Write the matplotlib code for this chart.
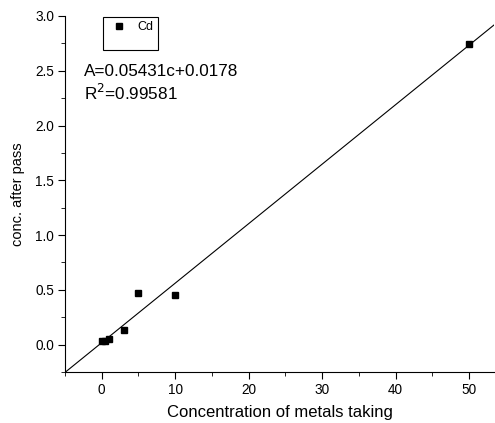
import matplotlib
matplotlib.use("Agg")
import matplotlib.pyplot as plt
import numpy as np
from matplotlib.ticker import MultipleLocator
from matplotlib.patches import Rectangle

plt.rcParams['font.family'] = ['Liberation Sans', 'DejaVu Sans']

conc = [0, 0.5, 1, 3, 5, 10, 50]
after = [0.03, 0.03, 0.05, 0.13, 0.47, 0.45, 2.74]
slope = 0.05431
intercept = 0.0178

W, H = 495, 423
fig = plt.figure(figsize=(W/100, H/100), dpi=100)
ax = fig.add_axes([65/W, 51/H, 429/W, 356/H])
xlim = (-5, 53.4)
ylim = (-0.25, 3.0)
ax.set_xlim(*xlim)
ax.set_ylim(*ylim)
xs = np.array(xlim)
ax.plot(xs, slope*xs + intercept, color='black', lw=0.8)
ax.plot(conc, after, 's', color='black', ms=5, label='Cd', clip_on=False)
for s in ['top', 'right']:
    ax.spines[s].set_visible(False)
ax.xaxis.set_major_locator(MultipleLocator(10))
ax.xaxis.set_minor_locator(MultipleLocator(5))
ax.yaxis.set_major_locator(MultipleLocator(0.5))
ax.yaxis.set_minor_locator(MultipleLocator(0.25))
ax.tick_params(which='major', length=5, direction='out', labelsize=9.8, pad=3)
ax.tick_params(which='minor', length=3, direction='out')
ax.set_xlabel('Concentration of metals taking', fontsize=12, labelpad=6)
ax.set_ylabel('conc. after pass', fontsize=10.5, labelpad=7)

fig.patches.append(Rectangle((103/W, 1-50/H), 55/W, 33/H, transform=fig.transFigure,
                             fill=False, edgecolor='black', lw=0.8))
leg = fig.legend(loc='upper left', bbox_to_anchor=(112.75/W, 1-21/H), fontsize=9,
                 frameon=False, handlelength=1, borderpad=0, handletextpad=1.0,
                 markerscale=0.75, borderaxespad=0)

fig.text(84/W, 1-71/H, 'A=0.05431c+0.0178', fontsize=12.3, va='center')
fig.text(84/W, 1-93/H, 'R$^2$=0.99581', fontsize=12.3, va='center')
fig.savefig('out.png', dpi=100)
